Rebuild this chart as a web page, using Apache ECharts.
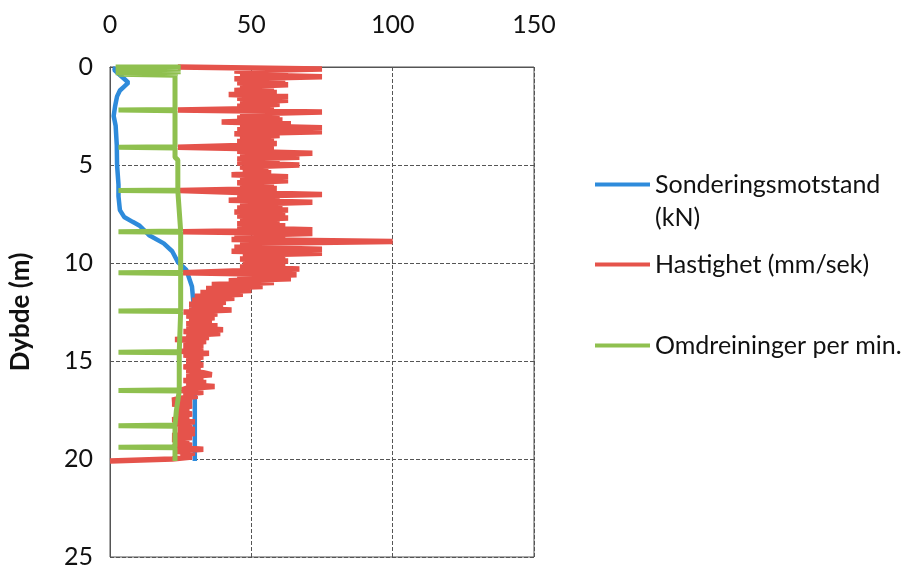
<!DOCTYPE html>
<html>
<head>
<meta charset="utf-8">
<script src="https://cdn.jsdelivr.net/npm/echarts@6/dist/echarts.min.js"></script>
<style>
html,body{margin:0;padding:0;background:#fff;}
#chart{width:906px;height:574px;}
</style>
</head>
<body>
<div id="chart"></div>
<script>
// X-axis ticks (top) and Y-axis ticks (depth)
const xTicks = [0, 50, 100, 150];
const yTicks = [0, 5, 10, 15, 20, 25];

// Sonderingsmotstand (kN) vs depth (m)
const blueDepth = [0, 0.15, 0.35, 0.6, 0.8, 1.0, 1.2, 1.5, 2.0, 2.5, 3.0, 4.0, 5.0, 6.0, 6.6, 7.3, 7.65, 7.9, 8.1, 8.6, 9.0, 9.4, 9.95, 10.35, 11.2, 12.0, 13.0, 15.0, 17.0, 18.5, 20.1];
const blueValue = [2, 1.5, 3, 5, 6.5, 5, 3.5, 2.5, 1.8, 1.3, 2, 2.4, 2.5, 3, 3, 3.5, 5, 8, 10.5, 14, 19, 22, 24, 27, 29, 29.5, 30, 30, 30, 30, 30];

// Hastighet (mm/sek), sampled every 0.1 m of depth from 0 m
const redStep = 0.1;
const redValue = [
  24,75,44,63,46,75,44,62,45,63,
  46,58,44,59,42,63,45,63,46,60,
  45,58,24,75,46,60,45,61,39.5,64,
  46,75,45,75,44,60,46,58,45,59,
  46,24,58,45,71.6,46,67,45,60,45,
  67,46,56,47,57,43,63,46,63,45,
  58,46,59,24.6,46,75,45,60,42,71.6,
  46,61,45,63,44,62,45,63,46,60,
  45,62,45,71.6,25.8,71.6,44,62,43,100,
  46,63,44,75,43,75,47,62,46,63,
  47,62,46,67,46,25.8,66,45,64,42,
  58,36,54,34,50,32,47,30,44,29,
  41,28,40,28,43,26,38,27,37,28,
  36,27,38,27,40,26,39,27,35,23,
  34,26,33,26,33,25,35,26,33,27,
  32,27,33,26,32,27,33,36,27,33,
  26,34,27,37,27,25,33,26,31,25,
  22,29,22,29,24,28,23,29,24,28,
  22,30,23,29,24,30,24,30,22,29,
  22,28,23,29,22,33,23,30,25,29,
  22,0
];

// Omdreininger per min. vs depth (m)
const greenDepth = [0, 0, 0.05, 0.08, 0.13, 0.16, 0.21, 0.24, 0.29, 0.32, 0.37, 0.42, 2.17, 2.2, 2.23, 4.07, 4.1, 4.13, 4.6, 4.75, 5.2, 6.27, 6.3, 6.33, 8.37, 8.4, 8.43, 10.47, 10.5, 10.53, 12.42, 12.45, 12.48, 14.52, 14.55, 14.58, 16.47, 16.5, 16.53, 17.5, 18.27, 18.3, 18.33, 19.37, 19.4, 19.43, 20.1];
const greenValue = [2, 25, 2, 25, 2, 25, 2, 25, 2, 24, 3, 23, 23, 3, 23, 23, 3, 23, 23, 24, 24, 24, 3, 24, 25, 3, 25, 25, 3, 25, 25, 3, 25, 24.5, 3, 24.5, 24.5, 3, 24.5, 23.5, 23, 3, 23, 23, 3, 23, 23];

const names = ['Sonderingsmotstand (kN)', 'Hastighet (mm/sek)', 'Omdreininger per min.'];
const colors = ['#2E8BDB', '#E5534B', '#8FC04F'];

const blueData = blueValue.map((v, i) => [v, blueDepth[i]]);
const redData = redValue.map((v, i) => [v, Math.round(i * redStep * 10) / 10]);
const greenData = greenValue.map((v, i) => [v, greenDepth[i]]);

const FONT = 'Lato';
const gridLine = { color: '#555', width: 1, type: [4, 2] };

const chart = echarts.init(document.getElementById('chart'), null, { renderer: 'canvas' });
const legendBase = {
  orient: 'vertical', left: 595, padding: 0, icon: 'rect', itemWidth: 55, itemHeight: 4,
  selectedMode: false,
  textStyle: { fontFamily: FONT, fontSize: 25, color: '#111', lineHeight: 33 }
};
chart.setOption({
  animation: false,
  backgroundColor: '#fff',
  color: colors,
  grid: { left: 110, top: 67, width: 424, height: 490, show: true, borderColor: '#555', borderWidth: 1, containLabel: false },
  legend: [
    Object.assign({}, legendBase, {
      top: 135, data: [names[0]],
      formatter: () => '\nSonderingsmotstand\n(kN)'
    }),
    Object.assign({}, legendBase, { top: 248, data: [names[1]] }),
    Object.assign({}, legendBase, { top: 329, data: [names[2]] })
  ],
  xAxis: {
    type: 'value', position: 'top', min: xTicks[0], max: xTicks[xTicks.length - 1], interval: 50,
    axisLine: { show: true, lineStyle: { color: '#555' } },
    axisTick: { show: false },
    splitLine: { show: true, lineStyle: gridLine },
    axisLabel: { fontFamily: FONT, fontSize: 25, color: '#111', margin: 30 }
  },
  yAxis: {
    type: 'value', inverse: true, min: yTicks[0], max: yTicks[yTicks.length - 1], interval: 5,
    name: 'Dybde (m)', nameLocation: 'middle', nameGap: 76, nameRotate: 90,
    nameTextStyle: { fontFamily: FONT, fontSize: 26, fontWeight: 'bold', color: '#111' },
    axisLine: { show: true, lineStyle: { color: '#555' } },
    axisTick: { show: false },
    splitLine: { show: true, lineStyle: gridLine },
    axisLabel: { fontFamily: FONT, fontSize: 25, color: '#111', margin: 17 }
  },
  series: [
    { name: names[0], type: 'line', data: blueData, showSymbol: false, clip: false,
      lineStyle: { width: 4.5, color: colors[0] }, itemStyle: { color: colors[0] } },
    { name: names[1], type: 'line', data: redData, showSymbol: false, clip: false,
      lineStyle: { width: 5.5, color: colors[1] }, itemStyle: { color: colors[1] } },
    { name: names[2], type: 'line', data: greenData, showSymbol: false, clip: false,
      lineStyle: { width: 5, color: colors[2] }, itemStyle: { color: colors[2] } }
  ]
});
</script>
</body>
</html>
